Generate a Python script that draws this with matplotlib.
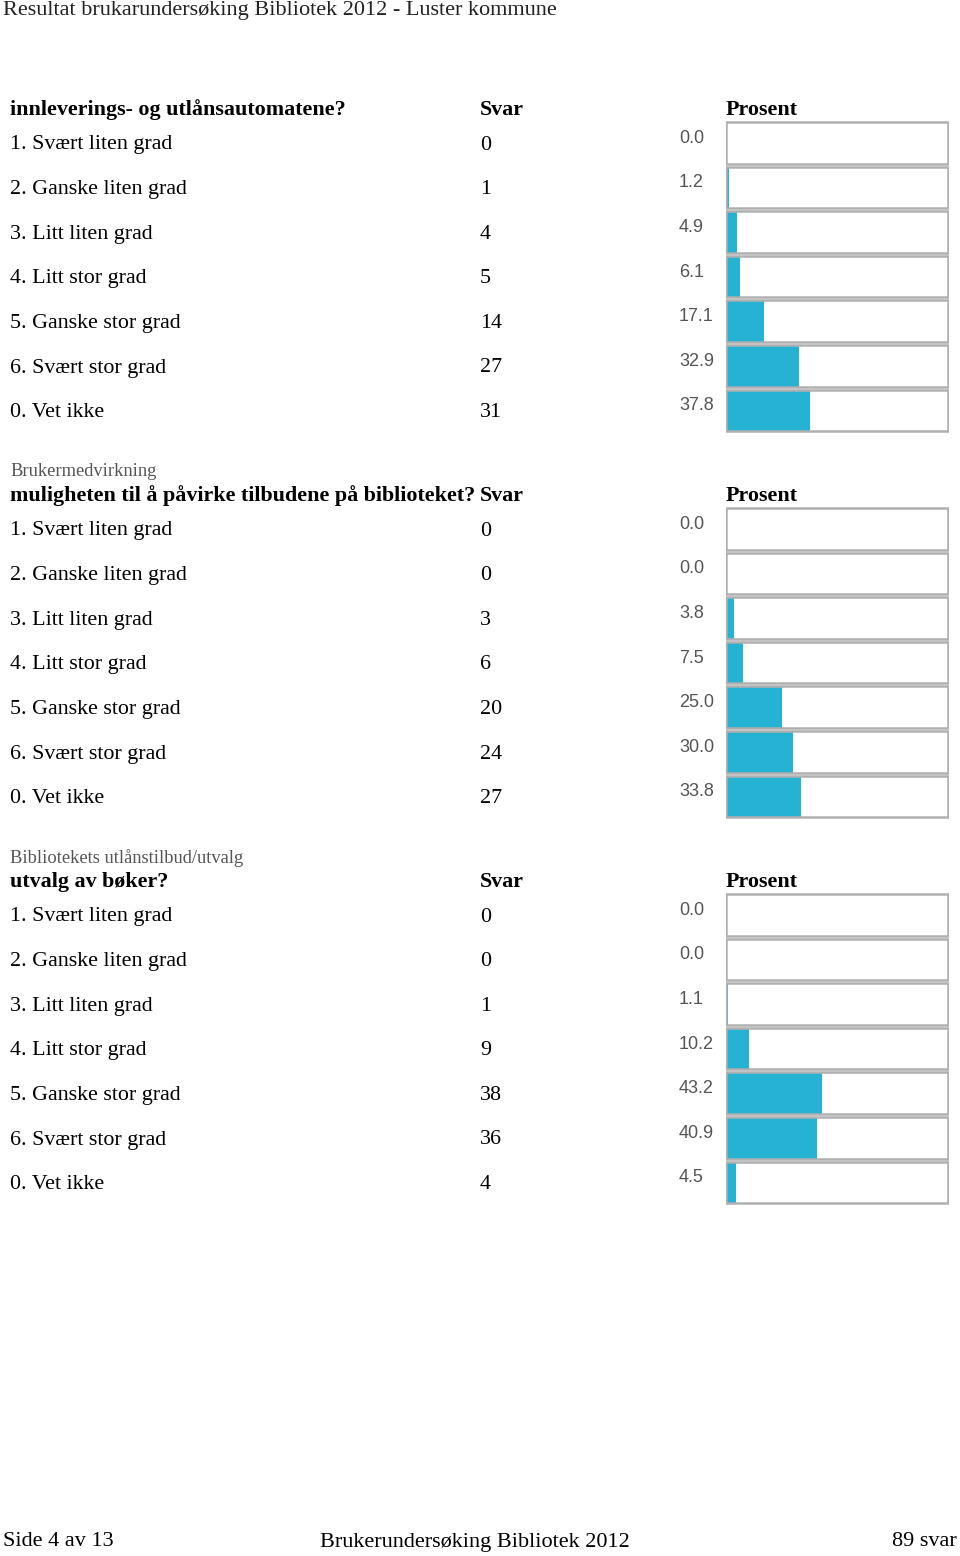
import matplotlib.pyplot as plt

W, H = 960, 1556

title = "Resultat brukarundersøking Bibliotek 2012 - Luster kommune"
categories = ["1. Svært liten grad", "2. Ganske liten grad", "3. Litt liten grad",
              "4. Litt stor grad", "5. Ganske stor grad", "6. Svært stor grad",
              "0. Vet ikke"]

sec_titles = ["", "Brukermedvirkning", "Bibliotekets utlånstilbud/utvalg"]
questions = ["innleverings- og utlånsautomatene?",
             "muligheten til å påvirke tilbudene på biblioteket?",
             "utvalg av bøker?"]
counts = [[0, 1, 4, 5, 14, 27, 31],
          [0, 0, 3, 6, 20, 24, 27],
          [0, 0, 1, 9, 38, 36, 4]]
percents = [[0.0, 1.2, 4.9, 6.1, 17.1, 32.9, 37.8],
            [0.0, 0.0, 3.8, 7.5, 25.0, 30.0, 33.8],
            [0.0, 0.0, 1.1, 10.2, 43.2, 40.9, 4.5]]

footer_left = "Side 4 av 13"
footer_mid = "Brukerundersøking Bibliotek 2012"
footer_right = "89 svar"

serif = "Liberation Serif"
sans = "Liberation Sans"
bar_col = "#26b2d3"
box_col = "#b0b0b0"
fs = 15.8

fig = plt.figure(figsize=(W / 100, H / 100), dpi=100)


def fx(px):
    return px / W


def fy(py):
    return 1 - py / H


fig.text(fx(3), fy(11), title, family=serif, fontsize=16, color="#222222",
         va="center", ha="left")

pitch = 44.6
for s in range(3):
    off = 386 * s
    if sec_titles[s]:
        fig.text(fx(10), fy(86 + off), sec_titles[s], family=serif, fontsize=13.3,
                 color="#555555", va="center")
    fig.text(fx(10), fy(110 + off), questions[s], family=serif, fontsize=fs,
             weight="bold", va="center")
    fig.text(fx(480), fy(110 + off), "Svar", family=serif, fontsize=fs,
             weight="bold", va="center")
    fig.text(fx(726), fy(110 + off), "Prosent", family=serif, fontsize=fs,
             weight="bold", va="center")
    for i, cat in enumerate(categories):
        y = 145 + off + pitch * i
        fig.text(fx(10), fy(y), cat, family=serif, fontsize=fs, va="center")
        fig.text(fx(480), fy(y), str(counts[s][i]), family=serif, fontsize=fs,
                 va="center")

    # bar axes
    top = 120.5 + off
    bottom = top + pitch * 7
    ax = fig.add_axes([fx(726), fy(bottom), fx(949) - fx(726), (bottom - top) / H])
    rows = list(range(len(categories)))
    ax.barh(rows, percents[s], height=0.93, color=bar_col, edgecolor="none")
    ax.barh(rows, [100] * len(rows), height=0.93, fill=False,
            edgecolor=box_col, linewidth=1.8)
    for i, p in enumerate(percents[s]):
        ax.text(-21.2, i - 0.1, f"{p:.1f}", family=sans, fontsize=13,
                color="#555555", va="center", ha="left", clip_on=False)
    ax.set_xlim(0, 100.4)
    ax.set_ylim(6.5, -0.5)
    ax.axis("off")

fig.text(fx(3), fy(1542), footer_left, family=serif, fontsize=16, va="center")
fig.text(fx(475), fy(1542), footer_mid, family=serif, fontsize=16, va="center",
         ha="center")
fig.text(fx(957), fy(1542), footer_right, family=serif, fontsize=16,
         va="center", ha="right")

fig.savefig("out.png", dpi=100)
